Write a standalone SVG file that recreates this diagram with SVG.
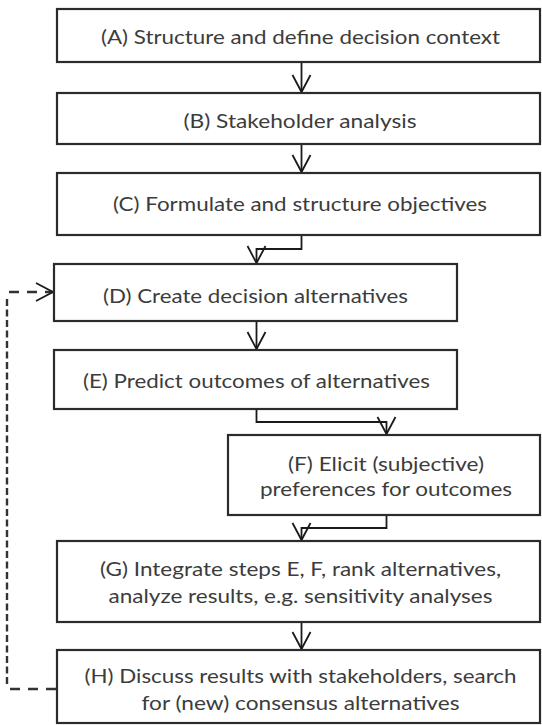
<svg xmlns="http://www.w3.org/2000/svg" width="542" height="725" viewBox="0 0 542 725">
  <style>
    .box { fill: #ffffff; stroke: #2b2b2b; stroke-width: 2.2; }
    .lbl { font-family: Lato, "Liberation Sans", sans-serif; font-size: 19px; fill: #3c3c3c; text-anchor: middle; }
    .conn { fill: none; stroke: #1a1a1a; stroke-width: 1.8; }
    .dash { fill: none; stroke: #333333; stroke-width: 2.4; }
  </style>
  <defs>
    <marker id="v" markerUnits="userSpaceOnUse" markerWidth="40" markerHeight="40" viewBox="-20 -20 40 40" refX="0" refY="0" orient="auto" overflow="visible">
      <path d="M-17,-9 L0,0 L-17,9" fill="none" stroke="#1a1a1a" stroke-width="1.8"/>
    </marker>
  </defs>
  <rect width="542" height="725" fill="#ffffff"/>

  <g id="connectors">
    <path class="conn" d="M301.5,62 V92" marker-end="url(#v)"/>
    <path class="conn" d="M301.5,144 V172" marker-end="url(#v)"/>
    <path class="conn" d="M301.5,235 V249 H256.5 V263" marker-end="url(#v)"/>
    <path class="conn" d="M256.5,321 V349" marker-end="url(#v)"/>
    <path class="conn" d="M256.5,409 V422 H386.5 V434" marker-end="url(#v)"/>
    <path class="conn" d="M386.5,515 V528 H301.5 V540" marker-end="url(#v)"/>
    <path class="conn" d="M301.5,622 V649" marker-end="url(#v)"/>
    <path class="dash" d="M56,689 H9" stroke-dasharray="10 8"/>
    <path class="dash" d="M7,684 V297" stroke-dasharray="7 3.5"/>
    <path class="dash" d="M9,292 H53" stroke-dasharray="10 8" marker-end="url(#v)"/>
  </g>

  <g id="node-A">
    <rect class="box" x="57" y="9" width="483" height="53"/>
    <text class="lbl" x="300.5" y="44" textLength="399" lengthAdjust="spacingAndGlyphs">(A) Structure and define decision context</text>
  </g>
  <g id="node-B">
    <rect class="box" x="57" y="93" width="483" height="51"/>
    <text class="lbl" x="300" y="127.5" textLength="233" lengthAdjust="spacingAndGlyphs">(B) Stakeholder analysis</text>
  </g>
  <g id="node-C">
    <rect class="box" x="57" y="173" width="483" height="62"/>
    <text class="lbl" x="300" y="211" textLength="374" lengthAdjust="spacingAndGlyphs">(C) Formulate and structure objectives</text>
  </g>
  <g id="node-D">
    <rect class="box" x="54" y="264" width="403" height="57"/>
    <text class="lbl" x="255.5" y="302.5" textLength="305" lengthAdjust="spacingAndGlyphs">(D) Create decision alternatives</text>
  </g>
  <g id="node-E">
    <rect class="box" x="54" y="350" width="403" height="59"/>
    <text class="lbl" x="256.5" y="388" textLength="347" lengthAdjust="spacingAndGlyphs">(E) Predict outcomes of alternatives</text>
  </g>
  <g id="node-F">
    <rect class="box" x="228" y="435" width="312" height="80"/>
    <text class="lbl" x="386" y="471" textLength="196" lengthAdjust="spacingAndGlyphs">(F) Elicit  (subjective)</text>
    <text class="lbl" x="386" y="496" textLength="252" lengthAdjust="spacingAndGlyphs">preferences for outcomes</text>
  </g>
  <g id="node-G">
    <rect class="box" x="57" y="541" width="483" height="81"/>
    <text class="lbl" x="300.5" y="576" textLength="401" lengthAdjust="spacingAndGlyphs">(G) Integrate steps E, F, rank alternatives,</text>
    <text class="lbl" x="300.5" y="603" textLength="384" lengthAdjust="spacingAndGlyphs">analyze results, e.g. sensitivity analyses</text>
  </g>
  <g id="node-H">
    <rect class="box" x="57" y="650" width="483" height="73"/>
    <text class="lbl" x="300.5" y="683" textLength="432" lengthAdjust="spacingAndGlyphs">(H) Discuss results with stakeholders, search</text>
    <text class="lbl" x="300.5" y="710" textLength="318" lengthAdjust="spacingAndGlyphs">for (new) consensus alternatives</text>
  </g>
</svg>
